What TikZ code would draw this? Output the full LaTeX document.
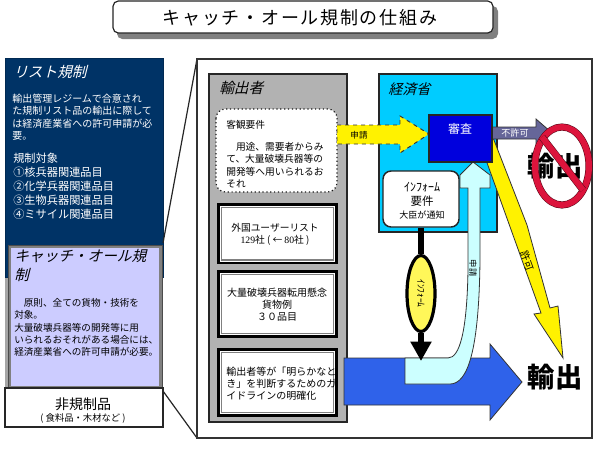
\documentclass[tikz,border=0pt]{standalone}
\usepackage{fontspec}
\setmainfont{Noto Sans CJK JP}
\newfontfamily\slantfont[FakeSlant=0.25]{Noto Sans CJK JP}
\newfontfamily\widefont[LetterSpace=9.5]{Noto Sans CJK JP}
\newfontfamily\digitfont{Liberation Serif}
\usetikzlibrary{arrows.meta,shapes.geometric}
\definecolor{listnavy}{HTML}{003366}
\definecolor{catchlav}{HTML}{CCCCFF}
\definecolor{panelgray}{HTML}{B2B2B2}
\definecolor{metiblue}{HTML}{00CCFF}
\definecolor{reviewblue}{HTML}{0000DD}
\definecolor{denyslate}{HTML}{666699}
\definecolor{exportblue}{HTML}{2F62EA}
\definecolor{applycyan}{HTML}{CCFFFF}
\definecolor{bancrimson}{HTML}{DC143C}
\tikzset{
  txt/.style={inner sep=0.75pt,align=left},
  ctxt/.style={inner sep=0.75pt,align=center},
  outline/.style={draw=black!85,line width=0.9pt},
  blockarrow/.style={draw=black!80,line width=0.6pt,line join=miter},
  listouter/.style={draw=black,fill=white,line width=1.8pt},
  listinner/.style={draw=black!50,line width=0.9pt},
  banline/.style={draw=black!60!bancrimson,line width=0.4pt,double=bancrimson,double distance=4.5pt},
}
\begin{document}
\begin{tikzpicture}[x=0.75pt,y=0.75pt,yscale=-1,xscale=1]
\useasboundingbox (0,0) rectangle (600,450);
\fill [white] (0,0) rectangle (600,450);

%Shape: title box with shadow
\fill [black!50,rounded corners=4pt] (117,6) rectangle (498,39);
\draw [outline,fill=white,rounded corners=4pt] (113,1) rectangle (493,33);
% Text Node
\draw (300,18) node (titletxt) [ctxt,font=\widefont\fontsize{13.5}{15}\selectfont] {キャッチ・オール規制の仕組み};

%Shape: left column
\fill [black!35] (5,270) rectangle (163,388);
\draw [draw=listnavy!80!black,fill=listnavy] (5,58) rectangle (163,277);
\draw [draw=black!50,line width=1.6pt,fill=catchlav] (9.5,246.5) rectangle (160.5,387);
\draw [draw=black!70,line width=0.5pt] (8,245) rectangle (162,388);
\draw [outline,fill=white] (5,388) rectangle (163,427);

%Shape: zoom lines and big frame
\draw [outline] (163,243) -- (197,59);
\draw [outline] (163,391) -- (197,438);
\draw [draw=black!80,line width=1.2pt,fill=white] (197,59) rectangle (592,438);

%Shape: exporter panel
\draw [outline,fill=panelgray] (209,74) rectangle (347,422);
\draw [draw=black!90,line width=0.9pt,dotted,fill=white,rounded corners=7pt] (216,109) rectangle (337,192);
\draw [listouter] (218.5,204.5) rectangle (336.5,263);
\draw [listinner] (221.5,207.5) rectangle (333.5,260);
\draw [listouter] (218.5,271.5) rectangle (336.5,336.5);
\draw [listinner] (221.5,274.5) rectangle (333.5,333.5);
\draw [listouter] (218.5,349.5) rectangle (336.5,415.5);
\draw [listinner] (221.5,352.5) rectangle (333.5,412.5);

%Shape: ministry panel
\draw [outline,fill=metiblue] (379,74) rectangle (497,232);

%Shape: big export arrow
\draw [blockarrow,fill=exportblue] (344,358) -- (490,358) -- (490,344) -- (522,382) -- (490,420) -- (490,405) -- (344,405) -- cycle ;
%Shape: bent application arrow
\draw [blockarrow,fill=applycyan] (405,358) -- (448,358) .. controls (460,358) and (467,330) .. (468,270) -- (468,188) -- (460,188) -- (460,175) -- (473,162) -- (490,175) -- (490,188) -- (480,188) -- (480,260) .. controls (479,350) and (468,384) .. (450,384) -- (405,384) -- cycle ;
%Shape: permit arrow
\draw [blockarrow,fill=yellow] (486,160) -- (541,313) -- (534,314) -- (563,358) -- (558,306) -- (550,308) -- (527,225) -- (492,135) -- cycle ;
%Shape: deny arrow
\draw [blockarrow,fill=denyslate] (490,127) -- (536,127) -- (536,119) -- (551,132) -- (536,145) -- (536,139) -- (490,139) -- cycle ;
%Shape: application arrow
\draw [draw=black!80,line width=0.7pt,dashed,fill=yellow] (337,125) -- (400,125) -- (400,116) -- (429,134) -- (400,153) -- (400,144) -- (337,144) -- cycle ;
%Shape: review box
\draw [outline,fill=reviewblue] (429,115) rectangle (492,162);

%Shape: inform connector
\node (infobox) at (421,199) [draw=black!85,line width=1.1pt,fill=white,rounded corners=6pt,minimum width=57pt,minimum height=42pt,inner sep=0pt] {};
\node (infoell) at (421,293.5) [ellipse,draw=black,line width=2.4pt,fill=yellow!65!white,minimum width=21pt,minimum height=57pt,inner sep=0pt] {};
\coordinate (infotip) at (421,361);
\draw [line width=4.5pt] (infobox.south) -- (infoell.north);
\draw [line width=4.5pt,-{Triangle[length=14.5pt,width=15pt]}] (infoell.south) -- (infotip);

% Text Node
\draw (555,166) node (banned) [ctxt,font=\bfseries\fontsize{20.5}{24}\selectfont] {輸出};
%Shape: prohibition sign
\draw [banline] (562,166) ellipse (27 and 39);
\draw [banline] (542,137) -- (583,190);

% Text Node
\draw (555,377) node (allowed) [ctxt,font=\bfseries\fontsize{20.5}{24}\selectfont] {輸出};
% Text Node
\draw (12,72) node (listhead) [txt,anchor=west,text=white,font=\slantfont\fontsize{11}{13}\selectfont] {リスト規制};
% Text Node
\draw (11,93) node (listbody) [txt,anchor=north west,text=white,font=\fontsize{7.5}{9.2}\selectfont] {輸出管理レジームで合意され\\た規制リスト品の輸出に際して\\は経済産業省への許可申請が必\\要。};
% Text Node
\draw (12,152) node (listitems) [txt,anchor=north west,text=white,font=\fontsize{8.4}{10.5}\selectfont] {規制対象\\①核兵器関連品目\\②化学兵器関連品目\\③生物兵器関連品目\\④ミサイル関連品目};
% Text Node
\draw (13,248) node (catchhead) [txt,anchor=north west,font=\slantfont\fontsize{11}{14}\selectfont] {キャッチ・オール規\\制};
% Text Node
\draw (13,297) node (catchbody) [txt,anchor=north west,font=\fontsize{7.2}{9.3}\selectfont] {　原則、全ての貨物・技術を\\対象。\\大量破壊兵器等の開発等に用\\いられるおそれがある場合には、\\経済産業省への許可申請が必要。};
% Text Node
\draw (83,404) node (freehead) [ctxt,font=\fontsize{10.5}{12}\selectfont] {非規制品};
% Text Node
\draw (83,418) node (freenote) [ctxt,font=\fontsize{7}{8}\selectfont] {( 食料品・木材など )};
% Text Node
\draw (218,88) node (exporterhead) [txt,anchor=west,font=\slantfont\fontsize{11}{13}\selectfont] {輸出者};
% Text Node
\draw (225,119) node (criteria) [txt,anchor=north west,font=\fontsize{7.3}{9.2}\selectfont] {客観要件\\[7.5pt]　用途、需要者からみ\\て、大量破壊兵器等の\\開発等へ用いられるお\\それ};
% Text Node
\draw (275,234.5) node (userlist) [ctxt,font=\fontsize{7.3}{9.4}\selectfont] {外国ユーザーリスト\\{\digitfont 129}社 ( ← {\digitfont 80}社 )};
% Text Node
\draw (277,305) node (goodslist) [ctxt,font=\fontsize{7.5}{9}\selectfont] {大量破壊兵器転用懸念\\貨物例\\３０品目};
% Text Node
\draw (225,366) node (guideline) [txt,anchor=north west,font=\fontsize{7.5}{9}\selectfont] {輸出者等が「明らかなと\\き」を判断するためのガ\\イドラインの明確化};
% Text Node
\draw (387,89) node (metihead) [txt,anchor=west,font=\slantfont\fontsize{10.5}{13}\selectfont] {経済省};
% Text Node
\draw (359,135) node (applylabel) [ctxt,font=\fontsize{6.4}{8}\selectfont] {申請};
% Text Node
\draw (460,129) node (reviewlabel) [ctxt,text=white,font=\fontsize{9}{11}\selectfont] {審査};
% Text Node
\draw (515,133) node (denylabel) [ctxt,text=white,font=\fontsize{6.8}{8}\selectfont] {不許可};
% Text Node
\draw (422,187) node (infoa) [ctxt,font=\fontsize{9}{11}\selectfont] {ｲﾝﾌｫｰﾑ};
% Text Node
\draw (422,201) node (infob) [ctxt,font=\fontsize{8.6}{10}\selectfont] {要件};
% Text Node
\draw (422,215) node (infoc) [ctxt,font=\fontsize{6.8}{8}\selectfont] {大臣が通知};
% Text Node
\draw (infoell) node (infolabel) [ctxt,rotate=-90,font=\fontsize{7}{8}\selectfont] {ｲﾝﾌｫｰﾑ};
% Text Node
\draw (473,268) node (uplabel) [ctxt,rotate=-90,font=\fontsize{6.2}{8}\selectfont] {申請};
% Text Node
\draw (527,261) node (permitlabel) [ctxt,rotate=-70,font=\fontsize{7.5}{9}\selectfont] {許可};

\end{tikzpicture}
\end{document}
